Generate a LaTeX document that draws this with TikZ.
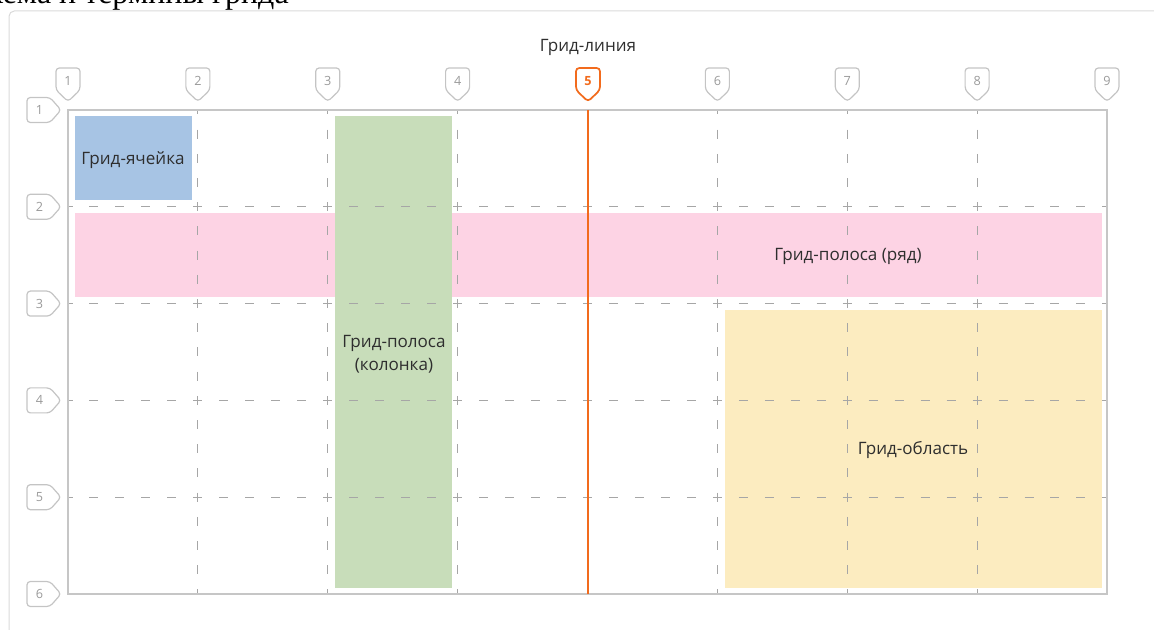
\documentclass[tikz,border=0pt]{standalone}
\usepackage{fontspec}
\setmainfont{Open Sans}
\newfontfamily\capfont{Liberation Serif}

\definecolor{framegray}{HTML}{C6C6C6}
\definecolor{outergray}{HTML}{DADADA}
\definecolor{dashgray}{HTML}{A6A6A6}
\definecolor{taggray}{HTML}{C4C4C4}
\definecolor{numgray}{HTML}{9A9A9A}
\definecolor{textgray}{HTML}{2E2E2E}
\definecolor{lineorange}{HTML}{F26B1D}
\definecolor{cellblue}{HTML}{A7C4E4}
\definecolor{rowpink}{HTML}{FDD3E4}
\definecolor{colgreen}{HTML}{C8DDBA}
\definecolor{areayellow}{HTML}{FCECC0}

\tikzset{
  gridframe/.style={draw=framegray, line width=1.1pt},
  vdash/.style={draw=dashgray, line width=0.75pt, dash pattern=on 6.75pt off 11.4pt, dash phase=3.375pt},
  hdash/.style={draw=dashgray, line width=0.75pt, dash pattern=on 6.75pt off 12.73pt, dash phase=3.375pt},
  tagline/.style={draw=taggray, line width=0.9pt, rounded corners=2.5pt},
  tagnum/.style={text=numgray, font=\fontsize{9.5}{11}\selectfont, inner sep=0pt},
  areatext/.style={text=textgray, font=\fontsize{12.8}{17.5}\selectfont, align=center, inner sep=0pt}
}

\begin{document}
\begin{tikzpicture}[x=0.75pt,y=-0.75pt]
\useasboundingbox (0,0) rectangle (1154,630);

% caption, cut off by the page
\node[anchor=base east, inner sep=0pt, font=\capfont\fontsize{24}{28}\selectfont] (caption) at (289,4) {Схема и термины грида};

% outer frame
\draw[outergray, line width=0.75pt, rounded corners=4pt] (1170,11) -- (9,11) -- (9,650);

% coloured areas
\fill[cellblue] (75,116) rectangle (192,200);
\fill[rowpink] (75,213) rectangle (1102,297);
\fill[colgreen] (335,116) rectangle (452,588);
\fill[areayellow] (725,310) rectangle (1102,588);

% dashed grid lines
\foreach \i in {2,3,4,6,7,8} {
  \pgfmathsetmacro\cx{68+(\i-1)*129.875}
  \draw[vdash] (\cx,110) -- (\cx,594);
}
\foreach \j in {2,...,5} {
  \pgfmathsetmacro\ry{110+(\j-1)*96.8}
  \draw[hdash] (68,\ry) -- (1107,\ry);
}

% grid box
\coordinate (nw) at (68,110);
\coordinate (se) at (1107,594);
\draw[gridframe] (nw) rectangle (se);

% highlighted grid line 5
\coordinate (l5top) at (588,110);
\coordinate (l5bot) at (588,594);
\draw[lineorange, line width=1.5pt] (l5top) -- (l5bot);

% column tags
\foreach \i in {1,2,3,4,6,7,8,9} {
  \pgfmathsetmacro\cx{68+(\i-1)*129.875}
  \draw[tagline] (\cx-12,68) -- (\cx+12,68) -- (\cx+12,90) -- (\cx,101.5) -- (\cx-12,90) -- cycle;
  \node[tagnum] (col\i) at (\cx,81) {\i};
}
\draw[tagline, draw=lineorange, line width=1.3pt] (576,68) -- (600,68) -- (600,90) -- (588,101.5) -- (576,90) -- cycle;
\node[tagnum, text=lineorange, font=\fontsize{9.5}{11}\selectfont\bfseries] (col5) at (588,81) {5};

% row tags
\foreach \j in {1,...,6} {
  \pgfmathsetmacro\ry{110+(\j-1)*96.8}
  \draw[tagline] (27,\ry-12.5) -- (50,\ry-12.5) -- (61,\ry) -- (50,\ry+12.5) -- (27,\ry+12.5) -- cycle;
  \node[tagnum] (row\j) at (39.5,\ry) {\j};
}

% texts
\node[areatext] (gline) at (588,47) {Грид-линия};
\node[areatext] (gcell) at (133,160) {Грид-ячейка};
\node[areatext] (gcol) at (394,354) {Грид-полоса\\(колонка)};
\node[areatext] (grow) at (848,256) {Грид-полоса (ряд)};
\node[areatext] (garea) at (913,450) {Грид-область};
\end{tikzpicture}
\end{document}
